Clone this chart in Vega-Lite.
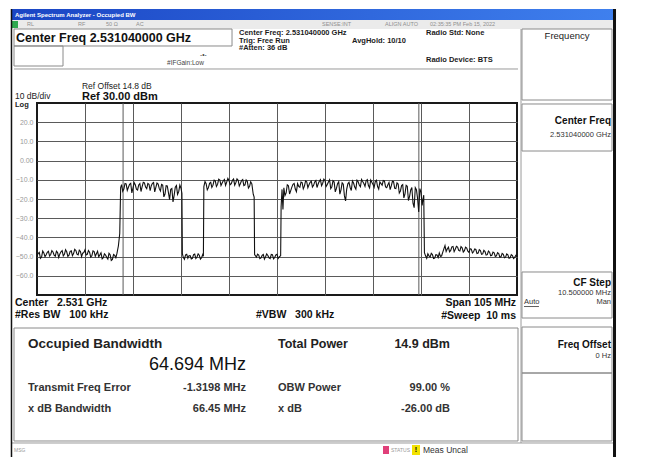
{
  "$schema": "https://vega.github.io/schema/vega-lite/v6.json",
  "width": 480,
  "height": 192,
  "autosize": {"type": "none"},
  "padding": {"left": 37, "top": 103, "right": 129, "bottom": 162},
  "background": "white",
  "config": {
    "font": "Liberation Sans",
    "view": {"stroke": "#1a1a1a", "strokeWidth": 2},
    "text": {"font": "Liberation Sans", "baseline": "middle"}
  },
  "datasets": {
    "trace": [
      {"f":2478.5,"lvl":-49.5},{"f":2479.0,"lvl":-47.8},{"f":2479.5,"lvl":-50.2},{"f":2480.0,"lvl":-48.1},{"f":2480.5,"lvl":-49.0},
      {"f":2481.0,"lvl":-47.2},{"f":2481.5,"lvl":-48.9},{"f":2482.0,"lvl":-47.6},{"f":2482.5,"lvl":-49.8},{"f":2483.0,"lvl":-47.9},
      {"f":2483.5,"lvl":-48.6},{"f":2484.0,"lvl":-46.9},{"f":2484.5,"lvl":-48.8},{"f":2485.0,"lvl":-47.5},{"f":2485.5,"lvl":-49.3},
      {"f":2486.0,"lvl":-47.0},{"f":2486.5,"lvl":-48.4},{"f":2487.0,"lvl":-46.8},{"f":2487.5,"lvl":-49.1},{"f":2488.0,"lvl":-47.3},
      {"f":2488.5,"lvl":-48.2},{"f":2489.0,"lvl":-46.5},{"f":2489.5,"lvl":-48.9},{"f":2490.0,"lvl":-47.7},{"f":2490.5,"lvl":-49.6},
      {"f":2491.0,"lvl":-47.4},{"f":2491.5,"lvl":-48.5},{"f":2492.0,"lvl":-50.1},{"f":2492.5,"lvl":-48.0},{"f":2493.0,"lvl":-50.6},
      {"f":2493.5,"lvl":-49.2},{"f":2494.0,"lvl":-51.3},{"f":2494.5,"lvl":-49.0},{"f":2495.0,"lvl":-51.5},{"f":2495.5,"lvl":-49.4},
      {"f":2496.0,"lvl":-48.2},{"f":2496.3,"lvl":-44.5},{"f":2496.6,"lvl":-38.0},{"f":2496.8,"lvl":-14.0},
      {"f":2478.75,"lvl":-48.4},{"f":2479.25,"lvl":-50.9},{"f":2479.75,"lvl":-47.1},{"f":2480.25,"lvl":-50.0},{"f":2480.75,"lvl":-47.8},
      {"f":2481.25,"lvl":-49.7},{"f":2481.75,"lvl":-46.9},{"f":2482.25,"lvl":-49.3},{"f":2482.75,"lvl":-47.2},{"f":2483.25,"lvl":-50.4},
      {"f":2483.75,"lvl":-47.5},{"f":2484.25,"lvl":-49.6},{"f":2484.75,"lvl":-46.4},{"f":2485.25,"lvl":-49.9},{"f":2485.75,"lvl":-47.3},
      {"f":2486.25,"lvl":-49.5},{"f":2486.75,"lvl":-46.2},{"f":2487.25,"lvl":-48.7},{"f":2487.75,"lvl":-46.6},{"f":2488.25,"lvl":-50.0},
      {"f":2488.75,"lvl":-47.9},{"f":2489.25,"lvl":-49.2},{"f":2489.75,"lvl":-46.8},{"f":2490.25,"lvl":-50.3},{"f":2490.75,"lvl":-47.0},
      {"f":2491.25,"lvl":-49.8},{"f":2491.75,"lvl":-47.2},{"f":2492.25,"lvl":-49.1},{"f":2492.75,"lvl":-51.2},{"f":2493.25,"lvl":-48.6},
      {"f":2493.75,"lvl":-50.4},{"f":2494.25,"lvl":-48.3},{"f":2494.75,"lvl":-52.0},{"f":2495.25,"lvl":-48.9},{"f":2495.75,"lvl":-50.6},
      {"f":2497.0,"lvl":-12.5},{"f":2497.5,"lvl":-14.8},{"f":2498.0,"lvl":-12.1},{"f":2498.5,"lvl":-13.9},{"f":2499.0,"lvl":-11.8},
      {"f":2499.5,"lvl":-14.2},{"f":2500.0,"lvl":-12.6},{"f":2500.5,"lvl":-15.3},{"f":2501.0,"lvl":-12.0},{"f":2501.5,"lvl":-13.5},
      {"f":2502.0,"lvl":-11.6},{"f":2502.5,"lvl":-14.6},{"f":2503.0,"lvl":-12.3},{"f":2503.5,"lvl":-13.1},{"f":2504.0,"lvl":-11.4},
      {"f":2504.5,"lvl":-14.0},{"f":2505.0,"lvl":-12.2},{"f":2505.5,"lvl":-15.8},{"f":2506.0,"lvl":-12.7},{"f":2506.5,"lvl":-17.4},
      {"f":2507.0,"lvl":-13.2},{"f":2507.5,"lvl":-20.3},{"f":2508.0,"lvl":-14.5},{"f":2508.5,"lvl":-18.1},{"f":2509.0,"lvl":-13.0},
      {"f":2509.5,"lvl":-16.2},{"f":2510.0,"lvl":-14.4},{"f":2510.2,"lvl":-17.0},{"f":2510.3,"lvl":-48.5},
      {"f":2497.25,"lvl":-16.0},{"f":2497.75,"lvl":-11.9},{"f":2498.25,"lvl":-15.5},{"f":2498.75,"lvl":-12.3},{"f":2499.25,"lvl":-16.8},
      {"f":2499.75,"lvl":-11.5},{"f":2500.25,"lvl":-14.9},{"f":2500.75,"lvl":-12.7},{"f":2501.25,"lvl":-16.1},{"f":2501.75,"lvl":-11.3},
      {"f":2502.25,"lvl":-13.8},{"f":2502.75,"lvl":-11.9},{"f":2503.25,"lvl":-15.7},{"f":2503.75,"lvl":-11.8},{"f":2504.25,"lvl":-16.3},
      {"f":2504.75,"lvl":-11.7},{"f":2505.25,"lvl":-14.6},{"f":2505.75,"lvl":-12.4},{"f":2506.25,"lvl":-18.9},{"f":2506.75,"lvl":-13.1},
      {"f":2507.25,"lvl":-16.7},{"f":2507.75,"lvl":-14.9},{"f":2508.25,"lvl":-21.5},{"f":2508.75,"lvl":-13.9},{"f":2509.25,"lvl":-17.6},
      {"f":2509.75,"lvl":-12.8},
      {"f":2510.5,"lvl":-50.4},{"f":2511.0,"lvl":-49.1},{"f":2511.5,"lvl":-50.8},{"f":2512.0,"lvl":-49.5},{"f":2512.5,"lvl":-50.9},
      {"f":2513.0,"lvl":-48.7},{"f":2513.5,"lvl":-50.2},{"f":2514.0,"lvl":-49.3},{"f":2514.5,"lvl":-50.6},{"f":2514.9,"lvl":-49.8},
      {"f":2510.75,"lvl":-51.4},{"f":2511.25,"lvl":-48.8},{"f":2511.75,"lvl":-49.6},{"f":2512.25,"lvl":-51.2},{"f":2512.75,"lvl":-49.0},
      {"f":2513.25,"lvl":-51.0},{"f":2513.75,"lvl":-48.6},{"f":2514.25,"lvl":-51.3},{"f":2514.75,"lvl":-48.9},
      {"f":2515.0,"lvl":-13.5},{"f":2515.5,"lvl":-12.0},{"f":2516.0,"lvl":-14.1},{"f":2516.5,"lvl":-11.3},{"f":2517.0,"lvl":-12.8},
      {"f":2517.5,"lvl":-10.6},{"f":2518.0,"lvl":-12.4},{"f":2518.5,"lvl":-10.1},{"f":2519.0,"lvl":-11.7},{"f":2519.5,"lvl":-9.8},
      {"f":2520.0,"lvl":-11.2},{"f":2520.5,"lvl":-10.4},{"f":2521.0,"lvl":-12.0},{"f":2521.5,"lvl":-9.6},{"f":2522.0,"lvl":-11.5},
      {"f":2522.5,"lvl":-10.2},{"f":2523.0,"lvl":-11.9},{"f":2523.5,"lvl":-9.9},{"f":2524.0,"lvl":-12.6},{"f":2524.5,"lvl":-10.8},
      {"f":2525.0,"lvl":-13.4},{"f":2525.5,"lvl":-12.1},{"f":2525.8,"lvl":-17.5},{"f":2526.0,"lvl":-19.0},{"f":2526.1,"lvl":-49.0},
      {"f":2515.25,"lvl":-10.9},{"f":2515.75,"lvl":-15.2},{"f":2516.25,"lvl":-11.8},{"f":2516.75,"lvl":-14.0},{"f":2517.25,"lvl":-10.2},
      {"f":2517.75,"lvl":-13.5},{"f":2518.25,"lvl":-9.7},{"f":2518.75,"lvl":-13.0},{"f":2519.25,"lvl":-10.5},{"f":2519.75,"lvl":-12.9},
      {"f":2520.25,"lvl":-9.3},{"f":2520.75,"lvl":-12.6},{"f":2521.25,"lvl":-10.3},{"f":2521.75,"lvl":-12.8},{"f":2522.25,"lvl":-9.5},
      {"f":2522.75,"lvl":-13.2},{"f":2523.25,"lvl":-10.4},{"f":2523.75,"lvl":-13.0},{"f":2524.25,"lvl":-10.1},{"f":2524.75,"lvl":-14.3},
      {"f":2525.25,"lvl":-11.0},
      {"f":2526.5,"lvl":-50.3},{"f":2527.0,"lvl":-49.2},{"f":2527.5,"lvl":-50.7},{"f":2528.0,"lvl":-48.9},{"f":2528.5,"lvl":-50.1},
      {"f":2529.0,"lvl":-49.4},{"f":2529.5,"lvl":-51.0},{"f":2530.0,"lvl":-49.0},{"f":2530.5,"lvl":-50.5},{"f":2531.0,"lvl":-48.8},
      {"f":2531.5,"lvl":-50.2},{"f":2531.8,"lvl":-49.5},
      {"f":2526.75,"lvl":-48.7},{"f":2527.25,"lvl":-51.1},{"f":2527.75,"lvl":-49.4},{"f":2528.25,"lvl":-51.3},{"f":2528.75,"lvl":-48.6},
      {"f":2529.25,"lvl":-50.6},{"f":2529.75,"lvl":-48.9},{"f":2530.25,"lvl":-51.2},{"f":2530.75,"lvl":-49.1},{"f":2531.25,"lvl":-51.0},
      {"f":2531.9,"lvl":-24.0},{"f":2532.1,"lvl":-15.0},{"f":2532.3,"lvl":-25.5},
      {"f":2532.5,"lvl":-14.2},{"f":2533.0,"lvl":-16.8},{"f":2533.5,"lvl":-13.1},{"f":2534.0,"lvl":-15.6},{"f":2534.5,"lvl":-12.4},
      {"f":2535.0,"lvl":-14.8},{"f":2535.5,"lvl":-12.0},{"f":2536.0,"lvl":-13.9},{"f":2536.5,"lvl":-11.5},{"f":2537.0,"lvl":-13.3},
      {"f":2537.5,"lvl":-11.0},{"f":2538.0,"lvl":-12.6},{"f":2538.5,"lvl":-10.7},{"f":2539.0,"lvl":-12.9},{"f":2539.5,"lvl":-10.4},
      {"f":2540.0,"lvl":-12.2},{"f":2540.5,"lvl":-9.9},{"f":2541.0,"lvl":-11.8},{"f":2541.5,"lvl":-10.3},{"f":2542.0,"lvl":-12.5},
      {"f":2542.5,"lvl":-10.0},{"f":2543.0,"lvl":-13.6},{"f":2543.5,"lvl":-11.2},{"f":2544.0,"lvl":-14.5},{"f":2544.5,"lvl":-11.0},
      {"f":2545.0,"lvl":-15.2},{"f":2545.5,"lvl":-12.3},{"f":2546.0,"lvl":-21.0},{"f":2546.5,"lvl":-12.1},{"f":2547.0,"lvl":-14.0},
      {"f":2547.5,"lvl":-10.6},{"f":2548.0,"lvl":-13.8},{"f":2548.5,"lvl":-10.2},{"f":2549.0,"lvl":-12.7},{"f":2549.5,"lvl":-9.8},
      {"f":2550.0,"lvl":-11.9},{"f":2550.5,"lvl":-10.5},{"f":2551.0,"lvl":-13.0},{"f":2551.5,"lvl":-10.1},{"f":2552.0,"lvl":-12.4},
      {"f":2552.5,"lvl":-10.9},{"f":2553.0,"lvl":-13.5},{"f":2553.5,"lvl":-11.1},{"f":2554.0,"lvl":-12.8},{"f":2554.5,"lvl":-10.6},
      {"f":2555.0,"lvl":-14.1},{"f":2555.5,"lvl":-11.4},{"f":2556.0,"lvl":-13.2},{"f":2556.5,"lvl":-11.0},{"f":2557.0,"lvl":-14.6},
      {"f":2557.5,"lvl":-12.2},{"f":2558.0,"lvl":-15.8},{"f":2558.5,"lvl":-12.5},{"f":2559.0,"lvl":-17.3},{"f":2559.5,"lvl":-13.4},
      {"f":2560.0,"lvl":-18.6},{"f":2560.5,"lvl":-14.0},{"f":2561.0,"lvl":-24.5},{"f":2561.5,"lvl":-15.2},{"f":2562.0,"lvl":-26.8},
      {"f":2562.5,"lvl":-16.5},{"f":2562.9,"lvl":-20.5},{"f":2563.1,"lvl":-18.0},{"f":2563.25,"lvl":-48.0},
      {"f":2532.75,"lvl":-18.2},{"f":2533.25,"lvl":-12.6},{"f":2533.75,"lvl":-17.4},{"f":2534.25,"lvl":-13.8},{"f":2534.75,"lvl":-11.9},
      {"f":2535.25,"lvl":-16.2},{"f":2535.75,"lvl":-13.4},{"f":2536.25,"lvl":-11.2},{"f":2536.75,"lvl":-14.7},{"f":2537.25,"lvl":-10.6},
      {"f":2537.75,"lvl":-14.1},{"f":2538.25,"lvl":-11.3},{"f":2538.75,"lvl":-13.8},{"f":2539.25,"lvl":-11.1},{"f":2539.75,"lvl":-14.0},
      {"f":2540.25,"lvl":-10.8},{"f":2540.75,"lvl":-13.1},{"f":2541.25,"lvl":-9.6},{"f":2541.75,"lvl":-13.5},{"f":2542.25,"lvl":-11.2},
      {"f":2542.75,"lvl":-14.6},{"f":2543.25,"lvl":-10.5},{"f":2543.75,"lvl":-16.3},{"f":2544.25,"lvl":-12.0},{"f":2544.75,"lvl":-17.5},
      {"f":2545.25,"lvl":-11.6},{"f":2545.75,"lvl":-18.4},{"f":2546.25,"lvl":-14.8},{"f":2546.75,"lvl":-11.3},{"f":2547.25,"lvl":-15.6},
      {"f":2547.75,"lvl":-11.7},{"f":2548.25,"lvl":-14.9},{"f":2548.75,"lvl":-11.0},{"f":2549.25,"lvl":-13.6},{"f":2549.75,"lvl":-10.9},
      {"f":2550.25,"lvl":-13.4},{"f":2550.75,"lvl":-9.9},{"f":2551.25,"lvl":-14.2},{"f":2551.75,"lvl":-11.3},{"f":2552.25,"lvl":-13.9},
      {"f":2552.75,"lvl":-10.2},{"f":2553.25,"lvl":-14.8},{"f":2553.75,"lvl":-12.0},{"f":2554.25,"lvl":-10.4},{"f":2554.75,"lvl":-13.7},
      {"f":2555.25,"lvl":-12.6},{"f":2555.75,"lvl":-15.1},{"f":2556.25,"lvl":-10.8},{"f":2556.75,"lvl":-14.4},{"f":2557.25,"lvl":-11.6},
      {"f":2557.75,"lvl":-16.9},{"f":2558.25,"lvl":-13.0},{"f":2558.75,"lvl":-19.4},{"f":2559.25,"lvl":-12.9},{"f":2559.75,"lvl":-20.8},
      {"f":2560.25,"lvl":-15.3},{"f":2560.75,"lvl":-22.2},{"f":2561.25,"lvl":-14.1},{"f":2561.75,"lvl":-19.7},{"f":2562.25,"lvl":-14.6},
      {"f":2562.75,"lvl":-23.4},
      {"f":2563.5,"lvl":-49.6},{"f":2564.0,"lvl":-48.5},{"f":2564.5,"lvl":-50.2},{"f":2565.0,"lvl":-48.9},{"f":2565.5,"lvl":-50.8},
      {"f":2566.0,"lvl":-49.2},{"f":2566.5,"lvl":-48.1},{"f":2567.0,"lvl":-49.7},{"f":2567.5,"lvl":-46.0},{"f":2568.0,"lvl":-47.3},
      {"f":2568.5,"lvl":-45.1},{"f":2569.0,"lvl":-46.8},{"f":2569.5,"lvl":-44.7},{"f":2570.0,"lvl":-46.2},{"f":2570.5,"lvl":-45.0},
      {"f":2571.0,"lvl":-47.1},{"f":2571.5,"lvl":-45.4},{"f":2572.0,"lvl":-46.9},{"f":2572.5,"lvl":-45.6},{"f":2573.0,"lvl":-47.8},
      {"f":2573.5,"lvl":-46.1},{"f":2574.0,"lvl":-47.5},{"f":2574.5,"lvl":-46.3},{"f":2575.0,"lvl":-48.2},{"f":2575.5,"lvl":-46.9},
      {"f":2576.0,"lvl":-48.6},{"f":2576.5,"lvl":-47.4},{"f":2577.0,"lvl":-49.0},{"f":2577.5,"lvl":-47.7},{"f":2578.0,"lvl":-49.3},
      {"f":2578.5,"lvl":-48.0},{"f":2579.0,"lvl":-49.6},{"f":2579.5,"lvl":-48.4},{"f":2580.0,"lvl":-50.1},{"f":2580.5,"lvl":-48.8},
      {"f":2581.0,"lvl":-50.3},{"f":2581.5,"lvl":-49.1},{"f":2582.0,"lvl":-50.6},{"f":2582.5,"lvl":-49.5},{"f":2583.0,"lvl":-50.4},
      {"f":2583.5,"lvl":-49.8},
      {"f":2563.75,"lvl":-50.9},{"f":2564.25,"lvl":-49.6},{"f":2564.75,"lvl":-48.3},{"f":2565.25,"lvl":-51.0},{"f":2565.75,"lvl":-49.0},
      {"f":2566.25,"lvl":-50.5},{"f":2566.75,"lvl":-49.9},{"f":2567.25,"lvl":-47.8},{"f":2567.75,"lvl":-44.3},{"f":2568.25,"lvl":-46.0},
      {"f":2568.75,"lvl":-47.5},{"f":2569.25,"lvl":-44.9},{"f":2569.75,"lvl":-47.4},{"f":2570.25,"lvl":-44.6},{"f":2570.75,"lvl":-46.8},
      {"f":2571.25,"lvl":-44.8},{"f":2571.75,"lvl":-47.6},{"f":2572.25,"lvl":-45.1},{"f":2572.75,"lvl":-47.2},{"f":2573.25,"lvl":-45.9},
      {"f":2573.75,"lvl":-48.1},{"f":2574.25,"lvl":-46.0},{"f":2574.75,"lvl":-48.4},{"f":2575.25,"lvl":-46.4},{"f":2575.75,"lvl":-48.8},
      {"f":2576.25,"lvl":-46.7},{"f":2576.75,"lvl":-49.2},{"f":2577.25,"lvl":-47.1},{"f":2577.75,"lvl":-49.6},{"f":2578.25,"lvl":-47.6},
      {"f":2578.75,"lvl":-49.9},{"f":2579.25,"lvl":-47.9},{"f":2579.75,"lvl":-50.3},{"f":2580.25,"lvl":-48.3},{"f":2580.75,"lvl":-50.6},
      {"f":2581.25,"lvl":-48.6},{"f":2581.75,"lvl":-50.9},{"f":2582.25,"lvl":-49.0},{"f":2582.75,"lvl":-51.0},{"f":2583.25,"lvl":-49.3}
    ],
    "panels": [
      {"part":"title bar","f":2472.81,"f2":2605.16,"lvl":78.96,"lvl2":73.23},
      {"part":"status row","f":2473.03,"f2":2604.5,"lvl":73.23,"lvl2":68.54},
      {"part":"LXI","f":2473.03,"f2":2474.34,"lvl":72.71,"lvl2":69.06},
      {"part":"status icon","f":2554.19,"f2":2555.5,"lvl":-148.65,"lvl2":-152.81},
      {"part":"warning","f":2560.53,"f2":2562.28,"lvl":-148.13,"lvl2":-153.33}
    ],
    "frames": [
      {"part":"center freq box","f":2473.47,"f2":2521.16,"lvl":68.54,"lvl2":59.69},
      {"part":"gain box","f":2473.47,"f2":2484.19,"lvl":59.69,"lvl2":49.27},
      {"part":"results box","f":2473.47,"f2":2583.72,"lvl":-87.19,"lvl2":-146.04},
      {"part":"menu key","f":2584.59,"f2":2604.28,"lvl":68.54,"lvl2":31.56},
      {"part":"center freq key","f":2584.59,"f2":2604.28,"lvl":29.48,"lvl2":5.0},
      {"part":"cf step key","f":2584.59,"f2":2604.28,"lvl":-58.02,"lvl2":-81.98},
      {"part":"freq offset key","f":2584.59,"f2":2604.28,"lvl":-86.67,"lvl2":-110.63},
      {"part":"blank key","f":2584.59,"f2":2604.28,"lvl":-110.63,"lvl2":-146.04}
    ],
    "lines": [
      {"part":"left edge","f":2472.92,"f2":2472.92,"lvl":78.96,"lvl2":-154.38},
      {"part":"right edge","f":2604.83,"f2":2604.83,"lvl":78.96,"lvl2":-154.38},
      {"part":"divider","f":2473.47,"f2":2583.72,"lvl":47.71,"lvl2":47.71},
      {"part":"divider","f":2473.03,"f2":2604.5,"lvl":-147.08,"lvl2":-147.08},
      {"part":"divider","f":2584.38,"f2":2584.38,"lvl":68.54,"lvl2":-147.08},
      {"part":"underline","f":2585.03,"f2":2588.3,"lvl":-76.0,"lvl2":-76.0},
      {"part":"obw marker","f":2497.33,"f2":2497.33,"lvl":30,"lvl2":-70},
      {"part":"obw marker","f":2562.03,"f2":2562.03,"lvl":30,"lvl2":-70}
    ],
    "labels": [
      {"role":"window title","text":"Agilent Spectrum Analyzer - Occupied BW","f":2473.69,"lvl":76.09},
      {"role":"status row","text":"RL","f":2476.31,"lvl":70.89},
      {"role":"status row","text":"RF","f":2487.47,"lvl":70.89},
      {"role":"status row","text":"50 Ω","f":2493.59,"lvl":70.89},
      {"role":"status row","text":"AC","f":2500.16,"lvl":70.89},
      {"role":"status row","text":"SENSE:INT","f":2540.84,"lvl":70.89},
      {"role":"status row","text":"ALIGN AUTO","f":2554.63,"lvl":70.89},
      {"role":"status row","text":"02:35:35 PM Feb 15, 2022","f":2564.47,"lvl":70.89},
      {"role":"meas banner","text":"Center Freq 2.531040000 GHz","f":2473.91,"lvl":64.11},
      {"role":"meas setup","text":"Center Freq: 2.531040000 GHz","f":2522.69,"lvl":66.46},
      {"role":"meas setup","text":"Trig: Free Run","f":2522.69,"lvl":62.55},
      {"role":"meas setup","text":"#Atten: 36 dB","f":2522.69,"lvl":58.65},
      {"role":"meas setup","text":"AvgHold: 10/10","f":2547.41,"lvl":62.55},
      {"role":"meas setup","text":"Radio Std: None","f":2563.59,"lvl":66.46},
      {"role":"meas setup","text":"Radio Device: BTS","f":2563.59,"lvl":52.4},
      {"role":"gain note","text":"#IFGain:Low","f":2506.94,"lvl":51.09},
      {"role":"gain note","text":"-•-","f":2514.16,"lvl":55.0},
      {"role":"scale note","text":"Ref Offset 14.8 dB","f":2488.34,"lvl":38.85},
      {"role":"scale note","text":"10 dB/div","f":2473.69,"lvl":33.39},
      {"role":"ref level","text":"Ref 30.00 dBm","f":2488.34,"lvl":33.13},
      {"role":"log","text":"Log","f":2473.69,"lvl":28.7},
      {"role":"sweep left","text":"Center\u00a0\u00a0 2.531 GHz","f":2473.69,"lvl":-74.17},
      {"role":"sweep left","text":"#Res BW\u00a0\u00a0 100 kHz","f":2473.69,"lvl":-80.42},
      {"role":"sweep left","text":"#VBW\u00a0\u00a0 300 kHz","f":2526.41,"lvl":-80.42},
      {"role":"sweep right","text":"Span 105 MHz","f":2583.28,"lvl":-74.17},
      {"role":"sweep right","text":"#Sweep\u00a0 10 ms","f":2583.28,"lvl":-80.94},
      {"role":"result title","text":"Occupied Bandwidth","f":2476.53,"lvl":-95.52},
      {"role":"result big","text":"64.694 MHz","f":2524.22,"lvl":-106.46},
      {"role":"result label","text":"Transmit Freq Error","f":2476.53,"lvl":-118.44},
      {"role":"result label","text":"x dB Bandwidth","f":2476.53,"lvl":-129.38},
      {"role":"result label","text":"OBW Power","f":2531.22,"lvl":-118.44},
      {"role":"result label","text":"x dB","f":2531.22,"lvl":-129.38},
      {"role":"result value","text":"-1.3198 MHz","f":2524.22,"lvl":-118.44},
      {"role":"result value","text":"66.45 MHz","f":2524.22,"lvl":-129.38},
      {"role":"result value","text":"99.00 %","f":2568.84,"lvl":-118.44},
      {"role":"result value","text":"-26.00 dB","f":2568.84,"lvl":-129.38},
      {"role":"power label","text":"Total Power","f":2531.22,"lvl":-95.52},
      {"role":"power value","text":"14.9 dBm","f":2568.84,"lvl":-95.52},
      {"role":"menu title","text":"Frequency","f":2594.44,"lvl":64.9},
      {"role":"softkey name","text":"Center Freq","f":2604.06,"lvl":20.63},
      {"role":"softkey name","text":"CF Step","f":2604.06,"lvl":-63.75},
      {"role":"softkey name","text":"Freq Offset","f":2604.06,"lvl":-96.04},
      {"role":"softkey value","text":"2.531040000 GHz","f":2604.06,"lvl":13.33},
      {"role":"softkey value","text":"10.500000 MHz","f":2604.06,"lvl":-68.96},
      {"role":"softkey value","text":"Man","f":2604.06,"lvl":-73.65},
      {"role":"softkey value","text":"0 Hz","f":2604.06,"lvl":-101.77},
      {"role":"softkey option","text":"Auto","f":2585.03,"lvl":-73.65},
      {"role":"message tiny","text":"MSG","f":2473.47,"lvl":-150.73},
      {"role":"message tiny","text":"STATUS","f":2555.94,"lvl":-150.73},
      {"role":"message","text":"Meas Uncal","f":2562.94,"lvl":-150.73},
      {"role":"warning glyph","text":"!","f":2561.41,"lvl":-150.73}
    ]
  },
  "encoding": {
    "x": {"field": "f", "type": "quantitative", "scale": {"domain": [2478.5, 2583.5], "nice": false, "zero": false},
          "axis": {"title": null, "values": [2489, 2499.5, 2510, 2520.5, 2531, 2541.5, 2552, 2562.5, 2573], "labels": false, "ticks": false, "domain": false, "grid": true, "gridColor": "#5a5a5a", "gridWidth": 1, "gridOpacity": 1}},
    "y": {"field": "lvl", "type": "quantitative", "scale": {"domain": [-70, 30], "nice": false, "zero": false},
          "axis": {"title": null, "values": [20, 10, 0, -10, -20, -30, -40, -50, -60], "labelExpr": "datum.value === 0 ? '0.00' : format(datum.value, '.1f')", "ticks": false, "domain": false, "grid": true, "gridColor": "#5a5a5a", "gridWidth": 1, "gridOpacity": 1, "labelColor": "#9a9a9a", "labelFontSize": 7, "labelPadding": 4, "labelFont": "Liberation Sans"}}
  },
  "layer": [
    {"data": {"name": "panels"}, "transform": [{"filter": "datum.part === 'title bar'"}],
     "mark": {"type": "rect", "clip": false, "color": {"gradient": "linear", "x1": 0, "x2": 1, "y1": 0, "y2": 0, "stops": [{"offset": 0, "color": "#1a45c4"}, {"offset": 1, "color": "#3f80ee"}]}},
     "encoding": {"x2": {"field": "f2"}, "y2": {"field": "lvl2"}}},
    {"data": {"name": "panels"}, "transform": [{"filter": "datum.part !== 'title bar'"}],
     "mark": {"type": "rect", "clip": false},
     "encoding": {"x2": {"field": "f2"}, "y2": {"field": "lvl2"},
                  "color": {"field": "part", "type": "nominal", "legend": null, "scale": {"domain": ["status row", "LXI", "status icon", "warning"], "range": ["#ebebeb", "#2fa84f", "#e0407a", "#f2e200"]}}}},
    {"data": {"name": "frames"},
     "mark": {"type": "rect", "clip": false, "fillOpacity": 0, "stroke": "#8a8a8a", "strokeWidth": 1},
     "encoding": {"x2": {"field": "f2"}, "y2": {"field": "lvl2"}}},
    {"data": {"name": "lines"}, "transform": [{"filter": "datum.part === 'divider'"}],
     "mark": {"type": "rule", "clip": false, "color": "#9a9a9a", "strokeWidth": 1},
     "encoding": {"x2": {"field": "f2"}, "y2": {"field": "lvl2"}}},
    {"data": {"name": "lines"}, "transform": [{"filter": "datum.part === 'underline'"}],
     "mark": {"type": "rule", "clip": false, "color": "#333333", "strokeWidth": 0.8},
     "encoding": {"x2": {"field": "f2"}, "y2": {"field": "lvl2"}}},
    {"data": {"name": "lines"}, "transform": [{"filter": "datum.part === 'left edge'"}],
     "mark": {"type": "rule", "clip": false, "color": "#111111", "strokeWidth": 1.5},
     "encoding": {"x2": {"field": "f2"}, "y2": {"field": "lvl2"}}},
    {"data": {"name": "lines"}, "transform": [{"filter": "datum.part === 'right edge'"}],
     "mark": {"type": "rule", "clip": false, "color": "#111111", "strokeWidth": 3},
     "encoding": {"x2": {"field": "f2"}, "y2": {"field": "lvl2"}}},
    {"data": {"name": "lines"}, "transform": [{"filter": "datum.part === 'obw marker'"}],
     "mark": {"type": "rule", "clip": true, "color": "#5a5a5a", "strokeWidth": 1},
     "encoding": {"x2": {"field": "f2"}, "y2": {"field": "lvl2"}}},
    {"data": {"name": "trace"},
     "mark": {"type": "line", "clip": true, "color": "#111111", "strokeWidth": 1.1, "interpolate": "linear"},
     "encoding": {}},
    {"data": {"name": "labels"}, "transform": [{"filter": "datum.role === 'window title'"}],
     "mark": {"type": "text", "align": "left", "fontSize": 6, "fontWeight": "bold", "color": "#ffffff"}, "encoding": {"text": {"field": "text"}}},
    {"data": {"name": "labels"}, "transform": [{"filter": "datum.role === 'status row'"}],
     "mark": {"type": "text", "align": "left", "fontSize": 5.5, "color": "#8f8f8f"}, "encoding": {"text": {"field": "text"}}},
    {"data": {"name": "labels"}, "transform": [{"filter": "datum.role === 'meas banner'"}],
     "mark": {"type": "text", "align": "left", "fontSize": 12.5, "fontWeight": "bold", "color": "#111111"}, "encoding": {"text": {"field": "text"}}},
    {"data": {"name": "labels"}, "transform": [{"filter": "datum.role === 'meas setup'"}],
     "mark": {"type": "text", "align": "left", "fontSize": 7.5, "fontWeight": "bold", "color": "#1c1c1c"}, "encoding": {"text": {"field": "text"}}},
    {"data": {"name": "labels"}, "transform": [{"filter": "datum.role === 'gain note'"}],
     "mark": {"type": "text", "align": "left", "fontSize": 6.5, "color": "#444444"}, "encoding": {"text": {"field": "text"}}},
    {"data": {"name": "labels"}, "transform": [{"filter": "datum.role === 'scale note'"}],
     "mark": {"type": "text", "align": "left", "fontSize": 8.5, "color": "#222222"}, "encoding": {"text": {"field": "text"}}},
    {"data": {"name": "labels"}, "transform": [{"filter": "datum.role === 'ref level'"}],
     "mark": {"type": "text", "align": "left", "fontSize": 11, "fontWeight": "bold", "color": "#111111"}, "encoding": {"text": {"field": "text"}}},
    {"data": {"name": "labels"}, "transform": [{"filter": "datum.role === 'log'"}],
     "mark": {"type": "text", "align": "left", "fontSize": 7.5, "fontWeight": "bold", "color": "#222222"}, "encoding": {"text": {"field": "text"}}},
    {"data": {"name": "labels"}, "transform": [{"filter": "datum.role === 'sweep left'"}],
     "mark": {"type": "text", "align": "left", "fontSize": 10.5, "fontWeight": "bold", "color": "#111111"}, "encoding": {"text": {"field": "text"}}},
    {"data": {"name": "labels"}, "transform": [{"filter": "datum.role === 'sweep right'"}],
     "mark": {"type": "text", "align": "right", "fontSize": 10.5, "fontWeight": "bold", "color": "#111111"}, "encoding": {"text": {"field": "text"}}},
    {"data": {"name": "labels"}, "transform": [{"filter": "datum.role === 'result title'"}],
     "mark": {"type": "text", "align": "left", "fontSize": 13.5, "fontWeight": "bold", "color": "#222222"}, "encoding": {"text": {"field": "text"}}},
    {"data": {"name": "labels"}, "transform": [{"filter": "datum.role === 'result big'"}],
     "mark": {"type": "text", "align": "right", "fontSize": 18, "color": "#111111"}, "encoding": {"text": {"field": "text"}}},
    {"data": {"name": "labels"}, "transform": [{"filter": "datum.role === 'result label'"}],
     "mark": {"type": "text", "align": "left", "fontSize": 11, "fontWeight": "bold", "color": "#333333"}, "encoding": {"text": {"field": "text"}}},
    {"data": {"name": "labels"}, "transform": [{"filter": "datum.role === 'result value'"}],
     "mark": {"type": "text", "align": "right", "fontSize": 11, "fontWeight": "bold", "color": "#333333"}, "encoding": {"text": {"field": "text"}}},
    {"data": {"name": "labels"}, "transform": [{"filter": "datum.role === 'power label'"}],
     "mark": {"type": "text", "align": "left", "fontSize": 12.5, "fontWeight": "bold", "color": "#222222"}, "encoding": {"text": {"field": "text"}}},
    {"data": {"name": "labels"}, "transform": [{"filter": "datum.role === 'power value'"}],
     "mark": {"type": "text", "align": "right", "fontSize": 12.5, "fontWeight": "bold", "color": "#222222"}, "encoding": {"text": {"field": "text"}}},
    {"data": {"name": "labels"}, "transform": [{"filter": "datum.role === 'menu title'"}],
     "mark": {"type": "text", "align": "center", "fontSize": 9.5, "color": "#222222"}, "encoding": {"text": {"field": "text"}}},
    {"data": {"name": "labels"}, "transform": [{"filter": "datum.role === 'softkey name'"}],
     "mark": {"type": "text", "align": "right", "fontSize": 10, "fontWeight": "bold", "color": "#111111"}, "encoding": {"text": {"field": "text"}}},
    {"data": {"name": "labels"}, "transform": [{"filter": "datum.role === 'softkey value'"}],
     "mark": {"type": "text", "align": "right", "fontSize": 7.5, "color": "#333333"}, "encoding": {"text": {"field": "text"}}},
    {"data": {"name": "labels"}, "transform": [{"filter": "datum.role === 'softkey option'"}],
     "mark": {"type": "text", "align": "left", "fontSize": 7.5, "color": "#333333"}, "encoding": {"text": {"field": "text"}}},
    {"data": {"name": "labels"}, "transform": [{"filter": "datum.role === 'message tiny'"}],
     "mark": {"type": "text", "align": "left", "fontSize": 5, "color": "#999999"}, "encoding": {"text": {"field": "text"}}},
    {"data": {"name": "labels"}, "transform": [{"filter": "datum.role === 'message'"}],
     "mark": {"type": "text", "align": "left", "fontSize": 8.5, "color": "#333333"}, "encoding": {"text": {"field": "text"}}},
    {"data": {"name": "labels"}, "transform": [{"filter": "datum.role === 'warning glyph'"}],
     "mark": {"type": "text", "align": "center", "fontSize": 7, "fontWeight": "bold", "color": "#000000"}, "encoding": {"text": {"field": "text"}}}
  ]
}
